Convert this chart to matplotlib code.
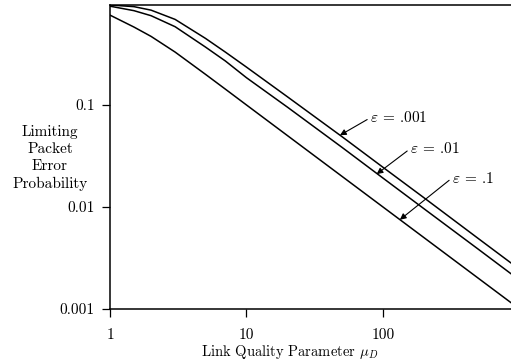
import matplotlib
matplotlib.use("Agg")
import matplotlib.pyplot as plt
import numpy as np

# values
mu = [1, 1.5, 2, 3, 5, 7, 10, 20, 50, 100, 200, 500, 1000]
p_eps_001 = [0.955, 0.92, 0.85, 0.69, 0.45, 0.33, 0.235, 0.12, 0.049, 0.0245, 0.0123, 0.0049, 0.00245]
p_eps_01 = [0.93, 0.84, 0.75, 0.585, 0.37, 0.27, 0.185, 0.095, 0.0385, 0.0192, 0.0096, 0.00385, 0.00192]
p_eps_1 = [0.76, 0.58, 0.47, 0.33, 0.2, 0.143, 0.1, 0.05, 0.02, 0.01, 0.005, 0.002, 0.001]

x_ticks = [1, 10, 100]
x_tick_labels = ["1", "10", "100"]
y_ticks = [0.1, 0.01, 0.001]
y_tick_labels = ["0.1", "0.01", "0.001"]

labels = [r"$\varepsilon$ = .001", r"$\varepsilon$ = .01", r"$\varepsilon$ = .1"]
arrow_tips = [(48.4, 0.0505), (89.9, 0.0210), (133, 0.0075)]
text_pos = [(80.3, 0.0746), (157.7, 0.0371), (320, 0.0192)]

plt.rcParams['font.family'] = ['cmr10', 'DejaVu Serif']
plt.rcParams['mathtext.fontset'] = 'cm'
plt.rcParams['axes.formatter.use_mathtext'] = True

fig = plt.figure(figsize=(5.11, 3.64), dpi=100)
ax = fig.add_axes([110/511, 1-309/364, 1-110/511, (309-5)/364])

for ys in (p_eps_001, p_eps_01, p_eps_1):
    ax.plot(mu, ys, color="k", lw=1.1)

ax.set_xscale("log")
ax.set_yscale("log")
ax.set_xlim(1, 867)
ax.set_ylim(0.001, 0.955)

ax.set_xticks(x_ticks, x_tick_labels)
ax.set_yticks(y_ticks, y_tick_labels)
ax.minorticks_off()
ax.tick_params(direction="out", length=6, width=0.9, labelsize=11, pad=5)
ax.tick_params("x", pad=8)

for side in ("left", "bottom", "top"):
    ax.spines[side].set_linewidth(1.1)
ax.spines["right"].set_visible(False)

for lab, tip, pos in zip(labels, arrow_tips, text_pos):
    ax.annotate(lab, xy=tip, xytext=pos, ha="left", va="center", fontsize=11,
                arrowprops=dict(arrowstyle="-|>", color="k", lw=0.8,
                                mutation_scale=9, relpos=(0, 0.5), shrinkA=0, shrinkB=0))

fig.text(290/511, 1-352/364, r"Link Quality Parameter $\mu_D$", ha="center", va="center", fontsize=10.5)
fig.text(50/511, 1-158/364, "Limiting\nPacket\nError\nProbability", ha="center", va="center",
         fontsize=11, linespacing=1.3)

fig.savefig("out.png", dpi=100)
